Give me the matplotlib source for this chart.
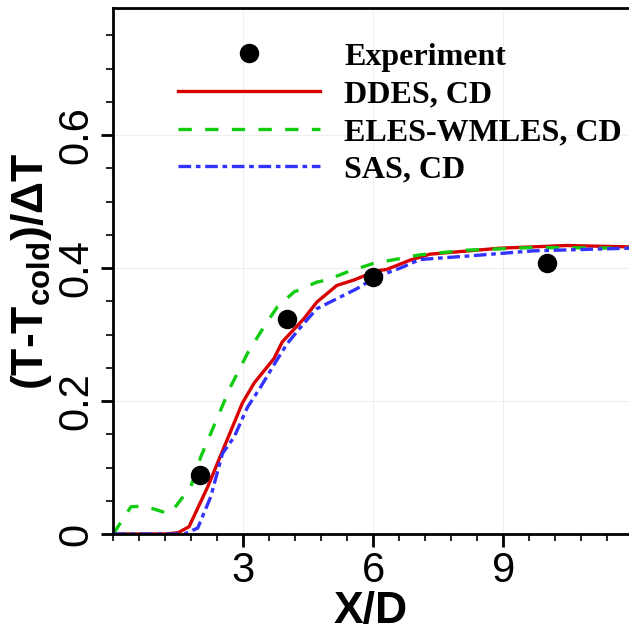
import matplotlib.pyplot as plt
from matplotlib.ticker import MultipleLocator

plt.rcParams['font.family'] = ['Liberation Sans', 'DejaVu Sans']
plt.rcParams['mathtext.fontset'] = 'custom'
plt.rcParams['mathtext.rm'] = 'Liberation Sans:bold'
plt.rcParams['mathtext.default'] = 'rm'

# data
exp_x = [2.0, 4.0, 6.0, 10.0]
exp_y = [0.089, 0.323, 0.387, 0.408]

ddes_x = [0.0, 1.2, 1.5, 1.75, 2.18, 2.56, 2.98, 3.25, 3.71, 3.90, 4.40, 4.70, 5.16, 5.55,
          6.08, 6.31, 6.85, 7.31, 8.92, 10.45, 11.9]
ddes_y = [0.0, 0.0, 0.002, 0.011, 0.071, 0.131, 0.197, 0.227, 0.264, 0.289, 0.324, 0.349,
          0.374, 0.382, 0.396, 0.398, 0.412, 0.421, 0.430, 0.434, 0.432]

eles_x = [0.0, 0.41, 0.72, 1.26, 1.41, 1.79, 2.02, 2.41, 2.71, 3.10, 3.48, 3.79, 4.17, 4.70,
          4.93, 5.39, 6.0, 7.08, 8.15, 9.69, 11.9]
eles_y = [0.0, 0.041, 0.042, 0.031, 0.039, 0.071, 0.116, 0.176, 0.222, 0.272, 0.312, 0.342,
          0.364, 0.379, 0.382, 0.394, 0.407, 0.420, 0.427, 0.431, 0.430]

sas_x = [0.0, 1.64, 1.95, 2.25, 2.52, 2.79, 3.10, 3.40, 3.75, 4.02, 4.40, 4.70, 5.16, 5.62,
         6.08, 6.62, 7.08, 8.15, 9.69, 11.9]
sas_y = [0.0, 0.0, 0.009, 0.056, 0.121, 0.146, 0.191, 0.221, 0.259, 0.287, 0.317, 0.339,
         0.354, 0.369, 0.387, 0.400, 0.413, 0.418, 0.426, 0.430]

fig = plt.figure(figsize=(6.29, 6.33), dpi=100)
ax = fig.add_axes([0.18, 0.1564, 0.82, 0.8306])

ax.plot(ddes_x, ddes_y, color='#d80000', lw=2.4, label='DDES, CD')
ax.plot(eles_x, eles_y, color='#11cc11', lw=2.4, ls=(0, (4, 4)), label='ELES-WMLES, CD')
ax.plot(sas_x, sas_y, color='#3333ff', lw=2.4, ls=(0, (3.8, 1.4, 1.4, 1.4)), label='SAS, CD')
ax.plot(exp_x, exp_y, 'o', color='black', ms=13, label='Experiment', zorder=5)

ax.set_xlim(0, 11.9)
ax.set_ylim(0, 0.791)
ax.xaxis.set_minor_locator(MultipleLocator(0.6))
ax.yaxis.set_minor_locator(MultipleLocator(0.05))
ax.set_xticks([3, 6, 9])
ax.set_yticks([0, 0.2, 0.4, 0.6])
ax.set_yticklabels(['0', '0.2', '0.4', '0.6'], rotation=90, va='center')
ax.grid(True, which='major', color='#efefef', lw=0.8)

ax.tick_params(which='major', length=9, width=2, labelsize=30, pad=3)
ax.tick_params(which='minor', length=5, width=1.2)
for s in ['left', 'bottom', 'top']:
    ax.spines[s].set_linewidth(2)
ax.spines['right'].set_visible(False)

ax.set_xlabel('X/D', fontsize=32, fontweight='bold', labelpad=0)
ax.set_ylabel('(T-T$_{cold}$)/ΔT', fontsize=32, fontweight='bold', labelpad=2)

h, l = ax.get_legend_handles_labels()
order = [3, 0, 1, 2]
ax.legend([h[i] for i in order], [l[i] for i in order], loc='upper left',
          bbox_to_anchor=(0.07, 0.99), frameon=False, numpoints=1,
          handlelength=4.45, handletextpad=0.75, labelspacing=0.26,
          prop={'family': 'Liberation Serif', 'weight': 'bold', 'size': 23})

fig.savefig('out.png', dpi=100)
